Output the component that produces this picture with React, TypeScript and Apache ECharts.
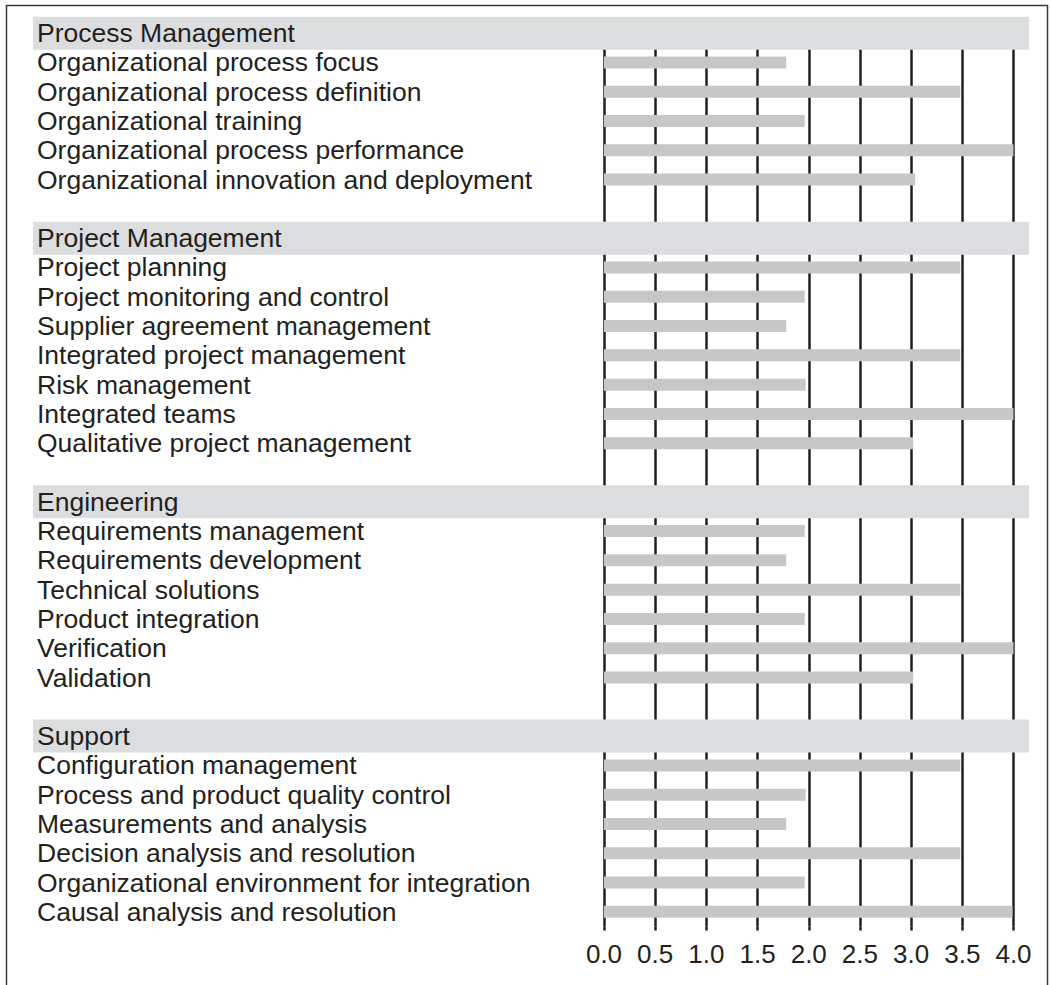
import React, { useEffect, useRef } from 'react';
import * as echarts from 'echarts';

const sectionNames = ['Process Management', 'Project Management', 'Engineering', 'Support'];

const processLabels = [
  'Organizational process focus',
  'Organizational process definition',
  'Organizational training',
  'Organizational process performance',
  'Organizational innovation and deployment',
];
const processValues = [1.78, 3.48, 1.96, 4.0, 3.04];

const projectLabels = [
  'Project planning',
  'Project monitoring and control',
  'Supplier agreement management',
  'Integrated project management',
  'Risk management',
  'Integrated teams',
  'Qualitative project management',
];
const projectValues = [3.48, 1.96, 1.78, 3.48, 1.97, 4.0, 3.02];

const engineeringLabels = [
  'Requirements management',
  'Requirements development',
  'Technical solutions',
  'Product integration',
  'Verification',
  'Validation',
];
const engineeringValues = [1.96, 1.78, 3.48, 1.96, 4.0, 3.02];

const supportLabels = [
  'Configuration management',
  'Process and product quality control',
  'Measurements and analysis',
  'Decision analysis and resolution',
  'Organizational environment for integration',
  'Causal analysis and resolution',
];
const supportValues = [3.48, 1.97, 1.78, 3.48, 1.96, 3.99];

const xTicks = [0, 0.5, 1.0, 1.5, 2.0, 2.5, 3.0, 3.5, 4.0];

const FONT = "'Liberation Sans', Arial, Helvetica, sans-serif";
const TEXT = '#231f20';

export default function App() {
  const ref = useRef<HTMLDivElement>(null);

  useEffect(() => {
    if (!ref.current) return;
    const chart = echarts.init(ref.current, null, { renderer: 'svg' });

    const groups = [
      { labels: processLabels, values: processValues },
      { labels: projectLabels, values: projectValues },
      { labels: engineeringLabels, values: engineeringValues },
      { labels: supportLabels, values: supportValues },
    ];

    const categories: string[] = [];
    const barData: (number | string)[] = [];
    const headerData: number[][] = [];
    groups.forEach((g, gi) => {
      headerData.push([0, categories.length]);
      categories.push(sectionNames[gi]);
      barData.push('-');
      g.labels.forEach((l, i) => {
        categories.push(l);
        barData.push(g.values[i]);
      });
      if (gi < groups.length - 1) {
        categories.push(' '.repeat(gi + 1));
        barData.push('-');
      }
    });

    const option: any = {
      animation: false,
      backgroundColor: '#ffffff',
      textStyle: { fontFamily: FONT },
      grid: { left: 604, width: 409.5, top: 18.5, height: 908, containLabel: false },
      xAxis: {
        type: 'value',
        min: 0,
        max: xTicks[xTicks.length - 1],
        interval: 0.5,
        z: 0,
        axisLine: { show: false },
        axisTick: { show: true, length: 4, lineStyle: { color: TEXT, width: 2.5 } },
        splitLine: { show: true, lineStyle: { color: TEXT, width: 2.5 } },
        axisLabel: {
          margin: 14,
          fontSize: 26,
          color: TEXT,
          fontFamily: FONT,
          formatter: (v: number) => v.toFixed(1),
        },
      },
      yAxis: {
        type: 'category',
        inverse: true,
        data: categories,
        z: 5,
        axisLine: { show: false },
        axisTick: { show: false },
        splitLine: { show: false },
        axisLabel: {
          interval: 0,
          align: 'left',
          margin: 567,
          fontSize: 26.5,
          color: TEXT,
          fontFamily: FONT,
        },
      },
      series: [
        {
          type: 'custom',
          z: 2,
          silent: true,
          data: headerData,
          renderItem: (params: any, api: any) => {
            const pt = api.coord([0, api.value(1)]);
            const h = 33;
            return {
              type: 'rect',
              shape: { x: 33, y: pt[1] - h / 2, width: 996, height: h },
              style: { fill: '#dcdddf' },
            };
          },
        },
        {
          type: 'bar',
          z: 3,
          barWidth: 12,
          silent: true,
          itemStyle: { color: '#c6c7c8' },
          data: barData,
        },
      ],
      graphic: [
        {
          type: 'rect',
          shape: { x: 6.5, y: 5.5, width: 1041, height: 1100 },
          style: { fill: 'none', stroke: '#3a3a3a', lineWidth: 1.5 },
          silent: true,
          z: 10,
        },
      ],
    };

    chart.setOption(option);
    return () => chart.dispose();
  }, []);

  return (
    <div
      ref={ref}
      style={{ position: 'absolute', left: 0, top: 0, width: 1051, height: 985, background: '#fff' }}
    />
  );
}
